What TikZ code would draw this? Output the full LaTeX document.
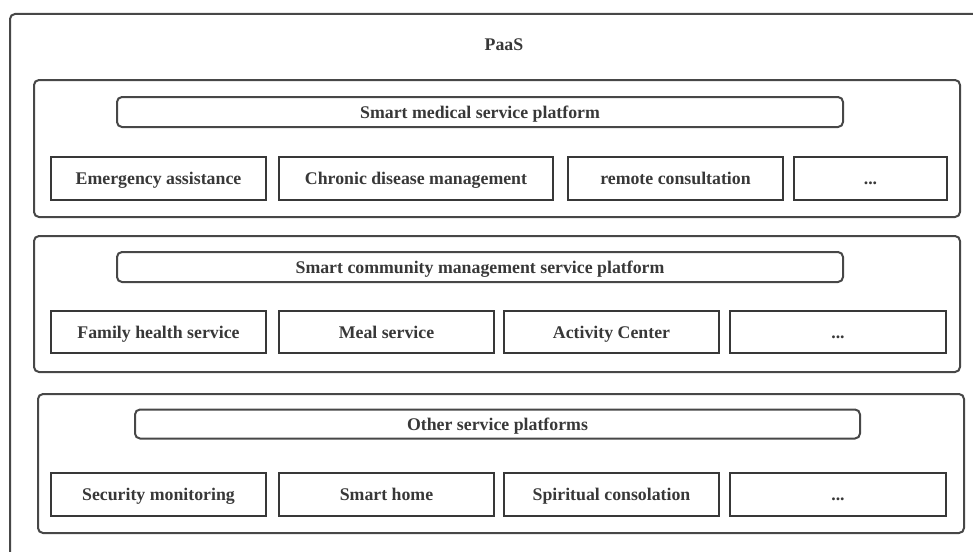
\documentclass[tikz,border=0pt]{standalone}
\usepackage{fontspec}
\setmainfont{Liberation Serif}
\begin{document}
\begin{tikzpicture}[x=1pt,y=-1pt,
  txt/.style={font=\fontsize{17.8}{20}\selectfont\bfseries, text=black!78, text height=15pt, text depth=3pt},
  frame/.style={draw=black!72, line width=2pt, rounded corners=5pt},
  bar/.style={txt, draw=black!72, line width=2pt, rounded corners=5pt, inner sep=0pt},
  cell/.style={txt, draw=black!78, line width=2pt, inner sep=0pt},
  lbl/.style={txt, inner sep=0pt}]
\useasboundingbox (0,0) rectangle (973,551);
\clip (0,0) rectangle (973,551);
% outer PaaS frame (cut off at right and bottom)
\draw[frame] (10,14) rectangle (1000,600);
\node[lbl] (paas) at (504,44) {PaaS};
% platform 1
\draw[frame] (34,80) rectangle (960,217);
\node[bar, minimum width=726pt, minimum height=30pt] (p1) at (480,112) {Smart medical service platform};
\node[cell, minimum width=215pt, minimum height=43pt] (a1) at (158.5,178.5) {Emergency assistance};
\node[cell, minimum width=274pt, minimum height=43pt] (a2) at (416,178.5) {Chronic disease management};
\node[cell, minimum width=215pt, minimum height=43pt] (a3) at (675.5,178.5) {remote consultation};
\node[cell, minimum width=153pt, minimum height=43pt] (a4) at (870.5,178.5) {...};
% platform 2
\draw[frame] (34,236) rectangle (960,372);
\node[bar, minimum width=726pt, minimum height=30pt] (p2) at (480,267) {Smart community management service platform};
\node[cell, minimum width=215pt, minimum height=42pt] (b1) at (158.5,332) {Family health service};
\node[cell, minimum width=215pt, minimum height=42pt] (b2) at (386.5,332) {Meal service};
\node[cell, minimum width=215pt, minimum height=42pt] (b3) at (611.5,332) {Activity Center};
\node[cell, minimum width=216pt, minimum height=42pt] (b4) at (838,332) {...};
% platform 3
\draw[frame] (38,394) rectangle (964,533);
\node[bar, minimum width=725pt, minimum height=29pt] (p3) at (497.5,424) {Other service platforms};
\node[cell, minimum width=215pt, minimum height=43pt] (c1) at (158.5,494) {Security monitoring};
\node[cell, minimum width=215pt, minimum height=43pt] (c2) at (386.5,494) {Smart home};
\node[cell, minimum width=215pt, minimum height=43pt] (c3) at (611.5,494) {Spiritual consolation};
\node[cell, minimum width=216pt, minimum height=43pt] (c4) at (838,494) {...};
\end{tikzpicture}
\end{document}
